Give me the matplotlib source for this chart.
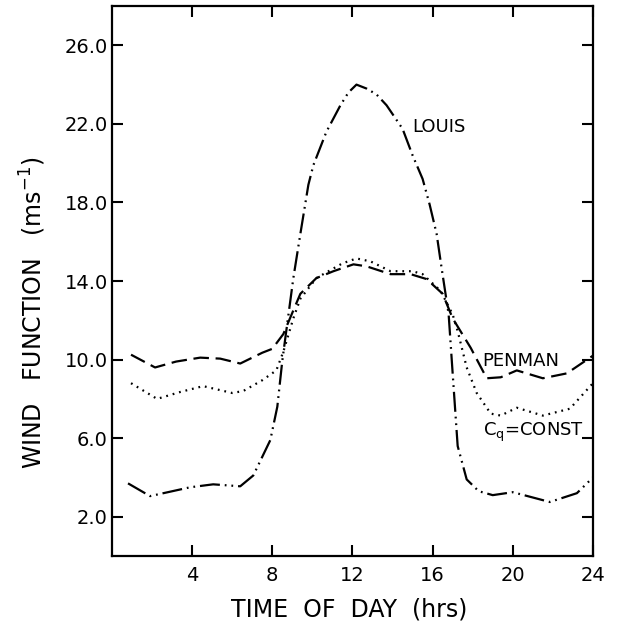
import matplotlib.pyplot as plt

plt.rcParams['font.family'] = ['DejaVu Sans']

# Datos (hora del dia, funcion de viento en m/s)
hours_penman = [0.95, 2.15, 3.2, 4.4, 5.4, 6.4, 6.9, 7.5, 8.0, 8.55, 9.4, 10.2, 11.05,
                12.05, 12.7, 13.9, 14.9, 15.7, 16.5, 17.0, 17.9, 18.7, 19.4, 20.2,
                21.5, 22.7, 24.0]
penman = [10.25, 9.6, 9.9, 10.1, 10.05, 9.8, 10.05, 10.35, 10.55, 11.3, 13.35, 14.15, 14.5,
          14.85, 14.75, 14.35, 14.35, 14.1, 13.35, 12.1, 10.6, 9.05, 9.1, 9.45,
          9.05, 9.3, 10.2]

hours_cq = [0.95, 2.25, 3.4, 4.55, 6.0, 6.55, 7.5, 8.2, 8.55, 9.05, 9.4, 10.2, 11.5,
            12.2, 12.9, 13.9, 15.0, 15.5, 16.4, 17.0, 17.25, 17.7, 18.2, 18.9, 19.4,
            20.2, 21.5, 22.85, 24.0]
cq = [8.8, 8.0, 8.35, 8.65, 8.3, 8.4, 8.95, 9.45, 10.4, 12.1, 13.1, 14.15, 14.9,
      15.15, 15.0, 14.5, 14.5, 14.35, 13.5, 12.3, 11.45, 9.6, 8.3, 7.25, 7.15,
      7.55, 7.15, 7.5, 8.8]

hours_louis = [0.8, 1.9, 3.9, 5.05, 6.4, 7.05, 7.9, 8.25, 8.5, 9.05, 9.4, 9.8, 10.05,
               10.7, 11.4, 11.8, 12.2, 12.7, 13.2, 13.7, 14.5, 15.0, 15.5, 15.85, 16.2,
               16.45, 16.8, 17.0, 17.25, 17.7, 18.3, 19.0, 20.0, 21.85, 23.2, 24.0]
louis = [3.7, 3.05, 3.5, 3.65, 3.55, 4.1, 5.9, 7.6, 9.95, 14.15, 16.4, 18.9, 19.9,
         21.6, 22.95, 23.6, 24.0, 23.8, 23.5, 22.95, 21.75, 20.4, 19.2, 17.9, 16.4,
         14.65, 12.3, 9.3, 5.6, 3.9, 3.3, 3.1, 3.25, 2.75, 3.2, 4.0]

x_ticks = [4, 8, 12, 16, 20, 24]
y_ticks = [2.0, 6.0, 10.0, 14.0, 18.0, 22.0, 26.0]

fig = plt.figure(figsize=(6.17, 6.23), dpi=100)
ax = fig.add_axes([0.1815, 0.1075, 0.7795, 0.8828])

ax.plot(hours_penman, penman, color='black', lw=1.6, dashes=(7, 3))
ax.plot(hours_cq, cq, color='black', lw=1.6, dashes=(0.8, 2.2))
ax.plot(hours_louis, louis, color='black', lw=1.6,
        dashes=(9, 2.2, 0.8, 2.2, 0.8, 2.2))

ax.text(14.97, 21.85, 'LOUIS', fontsize=13, va='center', ha='left')
ax.text(18.5, 9.95, 'PENMAN', fontsize=13, va='center', ha='left')
ax.text(18.5, 6.3, r'C$_{\mathregular{q}}$=CONST', fontsize=13, va='center', ha='left')

ax.set_xlim(0, 24)
ax.set_ylim(0, 28)
ax.set_xticks(x_ticks)
ax.set_xticklabels([str(t) for t in x_ticks])
ax.set_yticks(y_ticks)
ax.set_yticklabels([f'{t:.1f}' for t in y_ticks])
ax.tick_params(direction='in', length=8, width=1.5, top=True, right=True,
               labelsize=14)
ax.tick_params(axis='x', pad=7)
ax.tick_params(axis='y', pad=3)
for s in ax.spines.values():
    s.set_linewidth(1.6)

fig.text(0.566, 0.021, 'TIME  OF  DAY  (hrs)', fontsize=17, ha='center', va='center')
fig.text(0.0535, 0.4976, r'WIND   FUNCTION   (ms$^{\mathregular{-1}}$)', fontsize=17,
         ha='center', va='center', rotation=90)

fig.savefig('out.png', dpi=100)
